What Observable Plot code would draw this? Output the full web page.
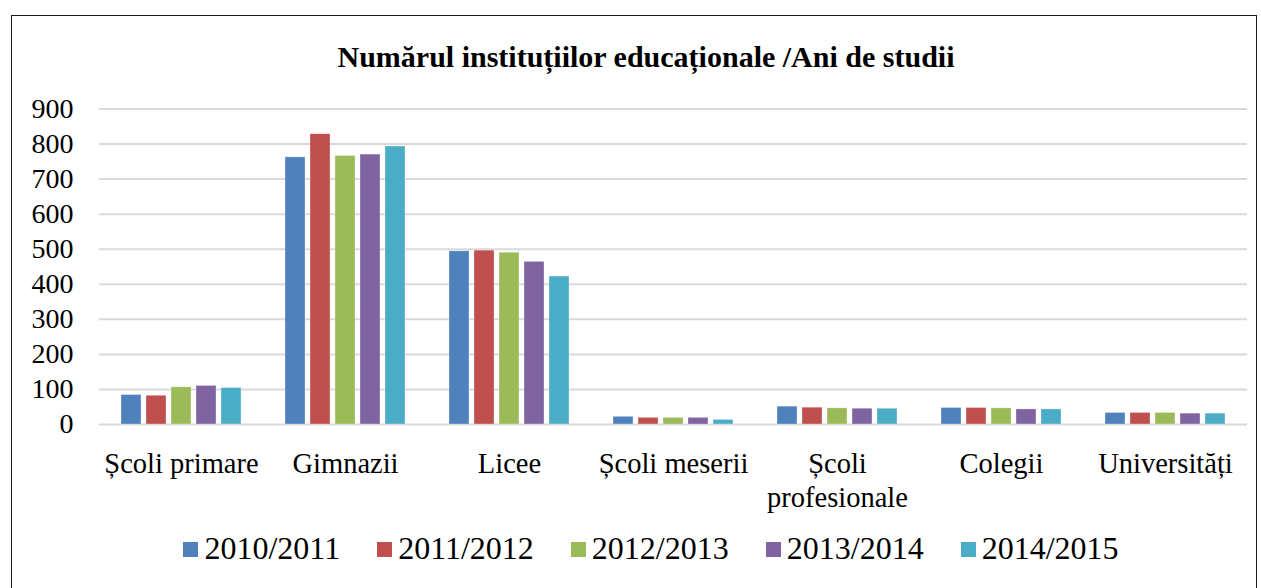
<!DOCTYPE html>
<html>
<head>
<meta charset="utf-8">
<script src="https://cdn.jsdelivr.net/npm/d3@7"></script>
<script src="https://cdn.jsdelivr.net/npm/@observablehq/plot@0.6"></script>
<style>
  html, body { margin: 0; padding: 0; background: #fff; }
  body { width: 1261px; height: 588px; position: relative; overflow: hidden; font-family: "Liberation Serif", serif; }
  #frame { position: absolute; left: 11px; top: 15px; width: 1246px; height: 620px; border: 1.3px solid #1a1a1a; box-sizing: border-box; }
  #title { position: absolute; left: 0; top: 40px; width: 1292px; text-align: center; font-weight: bold; font-size: 30px; color: #000; line-height: 34px; }
  #chart { position: absolute; left: 0; top: 0; }
  #legend { position: absolute; left: 0; top: 529px; width: 1302px; display: flex; justify-content: center; align-items: center; font-size: 32px; color: #000; line-height: 38px; }
  .item { display: flex; align-items: center; margin: 0 18.5px; }
  .sw { width: 15px; height: 15px; margin-right: 6px; margin-top: 2px; }
</style>
</head>
<body>
<div id="frame"></div>
<div id="chart"></div>
<div id="title">Numărul instituțiilor educaționale /Ani de studii</div>
<div id="legend"></div>
<script>
const categories = ["Școli primare", "Gimnazii", "Licee", "Școli meserii", "Școli profesionale", "Colegii", "Universități"];
const categoryLabels = ["Școli primare", "Gimnazii", "Licee", "Școli meserii", "Școli\nprofesionale", "Colegii", "Universități"];
const years = ["2010/2011", "2011/2012", "2012/2013", "2013/2014", "2014/2015"];
const colors = ["#4F81BD", "#C0504D", "#9BBB59", "#8064A2", "#4BACC6"];
const v2010_2011 = [84, 762, 494, 22, 51, 47, 33];
const v2011_2012 = [82, 828, 496, 19, 48, 47, 33];
const v2012_2013 = [106, 766, 490, 19, 46, 46, 33];
const v2013_2014 = [110, 770, 464, 19, 45, 43, 31];
const v2014_2015 = [104, 793, 422, 13, 45, 43, 31];
const yTicks = [0, 100, 200, 300, 400, 500, 600, 700, 800, 900];

const series = [v2010_2011, v2011_2012, v2012_2013, v2013_2014, v2014_2015];
const data = [];
categories.forEach((c, i) => years.forEach((yr, j) => data.push({cat: c, year: yr, value: series[j][i]})));
const labelOf = new Map(categories.map((c, i) => [c, categoryLabels[i]]));

const chart = Plot.plot({
  width: 1261,
  height: 520,
  marginLeft: 99,
  marginRight: 14,
  marginTop: 108.5,
  marginBottom: 96,
  style: {fontFamily: "Liberation Serif", fontSize: "28px", color: "#000", background: "transparent", overflow: "visible"},
  fx: {domain: categories, padding: 0, label: null},
  x: {domain: years, paddingInner: 0.22, paddingOuter: 0.85, axis: null},
  y: {domain: [0, 900], axis: null},
  color: {domain: years, range: colors},
  marks: [
    Plot.gridY({ticks: yTicks, stroke: "#d9d9d9", strokeOpacity: 1, strokeWidth: 2}),
    Plot.axisY({ticks: yTicks, tickSize: 0, tickPadding: 26, fontSize: 28, label: null, tickFormat: d => String(d)}),
    Plot.barY(data, {fx: "cat", x: "year", y: "value", fill: "year", stroke: "#ffffff", strokeOpacity: 0.5, strokeWidth: 0.6}),
    Plot.axisFx({anchor: "bottom", tickSize: 0, tickPadding: 24, fontSize: 28.5, lineHeight: 1.2, label: null, tickFormat: d => labelOf.get(d)})
  ]
});
document.getElementById("chart").appendChild(chart);

const legend = document.getElementById("legend");
years.forEach((yr, j) => {
  const it = document.createElement("div");
  it.className = "item";
  const sw = document.createElement("div");
  sw.className = "sw";
  sw.style.background = colors[j];
  const tx = document.createElement("span");
  tx.textContent = yr;
  it.appendChild(sw);
  it.appendChild(tx);
  legend.appendChild(it);
});
</script>
</body>
</html>
